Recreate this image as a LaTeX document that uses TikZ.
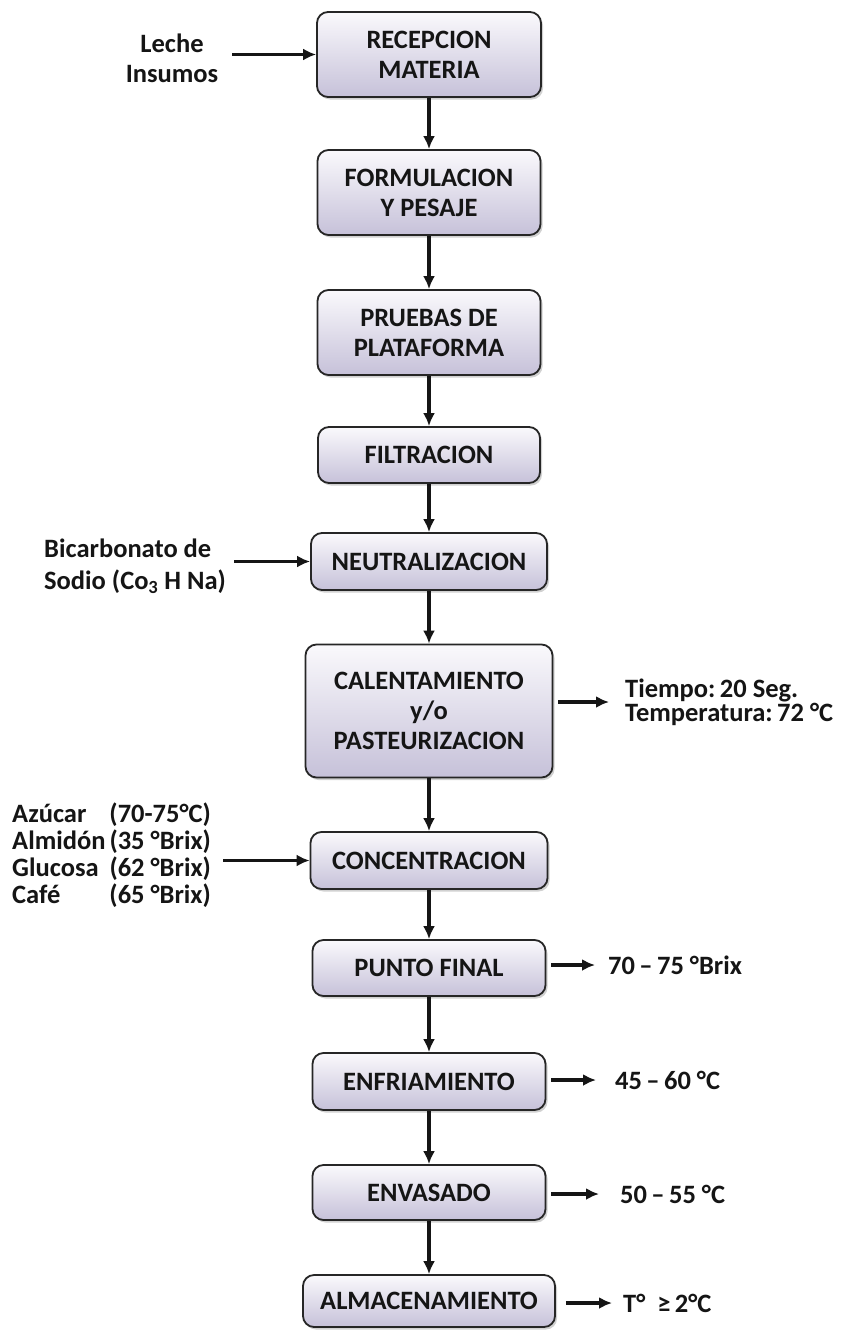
\documentclass[tikz,border=0pt]{standalone}
\usepackage{fontspec}
\setmainfont{Carlito}
\usetikzlibrary{shadows,arrows.meta}
\definecolor{boxtop}{HTML}{FAF9FC}
\definecolor{boxbot}{HTML}{C6C1D9}
\definecolor{ink}{HTML}{151515}
\newcommand\boxfont{\fontsize{26.5}{30}\selectfont\bfseries}
\newcommand\lblfont{\fontsize{26.5}{30}\selectfont\bfseries}
\tikzset{
  box/.style={draw=black!85, line width=1.8pt, rounded corners=11pt,
    top color=boxtop, bottom color=boxbot,
    drop shadow={shadow xshift=2pt, shadow yshift=-2.5pt, fill=black!40, opacity=.45},
    align=center, font=\boxfont, text=ink, inner sep=0pt},
  lbl/.style={font=\lblfont, text=ink, inner sep=0pt},
  arr/.style={line width=3.2pt, draw=ink, -{Latex[length=13pt,width=12pt]}},
}
\begin{document}
\begin{tikzpicture}[x=1pt,y=-1pt]
\fill[white] (0,0) rectangle (843,1330);
\useasboundingbox (0,0) rectangle (843,1330);

% process boxes
\node[box, minimum width=224pt, minimum height=85pt]  (n1)  at (429,54.5)  {RECEPCION\\MATERIA};
\node[box, minimum width=223pt, minimum height=85pt]  (n2)  at (429,192.5) {FORMULACION\\Y PESAJE};
\node[box, minimum width=223pt, minimum height=85pt]  (n3)  at (429,332.5) {PRUEBAS DE\\PLATAFORMA};
\node[box, minimum width=222pt, minimum height=56pt]  (n4)  at (429,455)   {FILTRACION};
\node[box, minimum width=236pt, minimum height=57pt]  (n5)  at (429,561.5) {NEUTRALIZACION};
\node[box, minimum width=247pt, minimum height=133pt] (n6)  at (429,711)   {CALENTAMIENTO\\y/o\\PASTEURIZACION};
\node[box, minimum width=237pt, minimum height=57pt]  (n7)  at (429,860.5) {CONCENTRACION};
\node[box, minimum width=233pt, minimum height=56pt]  (n8)  at (429,968)   {PUNTO FINAL};
\node[box, minimum width=233pt, minimum height=57pt]  (n9)  at (429,1081.5){ENFRIAMIENTO};
\node[box, minimum width=233pt, minimum height=55pt]  (n10) at (429,1192.5){ENVASADO};
\node[box, minimum width=252pt, minimum height=52pt]  (n11) at (429,1301)  {ALMACENAMIENTO};

% main flow
\foreach \a/\b in {n1/n2,n2/n3,n3/n4,n4/n5,n5/n6,n6/n7,n7/n8,n8/n9,n9/n10,n10/n11}
  \draw[arr] (\a) -- (\b);

% left inputs
\node[lbl, align=center] (leche) at (172,58) {Leche\\Insumos};
\node[lbl, align=left, anchor=west, font=\fontsize{26.5}{32}\selectfont\bfseries] (bic) at (44,566)
  {Bicarbonato de\\Sodio (Co\textsubscript{3} H Na)};
\node[lbl, anchor=west, font=\fontsize{26.5}{24}\selectfont\bfseries] (conc) at (12,857)
  {\begin{tabular}{@{}l@{\hspace{4pt}}l@{}}
   Azúcar & (70-75°C)\\
   Almidón & (35 °Brix)\\
   Glucosa & (62 °Brix)\\
   Café & (65 °Brix)
   \end{tabular}};

\draw[arr, shorten <=14pt] (leche.east |- n1.west) -- (n1.west);
\draw[arr, shorten <=8pt] (bic.east |- n5.west) -- (n5.west);
\draw[arr, shorten <=12pt] (conc.east |- n7.west) -- (n7.west);

% right outputs
\node[lbl, align=left, anchor=west, font=\fontsize{26.5}{24}\selectfont\bfseries] (t6) at (625,702)
  {Tiempo:\,20 Seg.\\Temperatura:\,72 °C};
\node[lbl, anchor=west] (t8)  at (608,965)  {70\,–\,75 °Brix};
\node[lbl, anchor=west] (t9)  at (615,1080) {45\,–\,60 °C};
\node[lbl, anchor=west] (t10) at (620,1194) {50\,–\,55 °C};
\node[lbl, anchor=west] (t11) at (623,1303) {T°~~≥\,2°C};

\draw[arr, shorten <=5pt, shorten >=16pt] (n6.east |- t6.west) -- (t6.west);
\draw[arr, shorten <=5pt, shorten >=13pt] (n8.east |- t8.west) -- (t8.west);
\draw[arr, shorten <=5pt, shorten >=19pt] (n9.east |- t9.west) -- (t9.west);
\draw[arr, shorten <=5pt, shorten >=21pt] (n10.east |- t10.west) -- (t10.west);
\draw[arr, shorten <=10pt, shorten >=11pt] (n11.east |- t11.west) -- (t11.west);
\end{tikzpicture}
\end{document}
